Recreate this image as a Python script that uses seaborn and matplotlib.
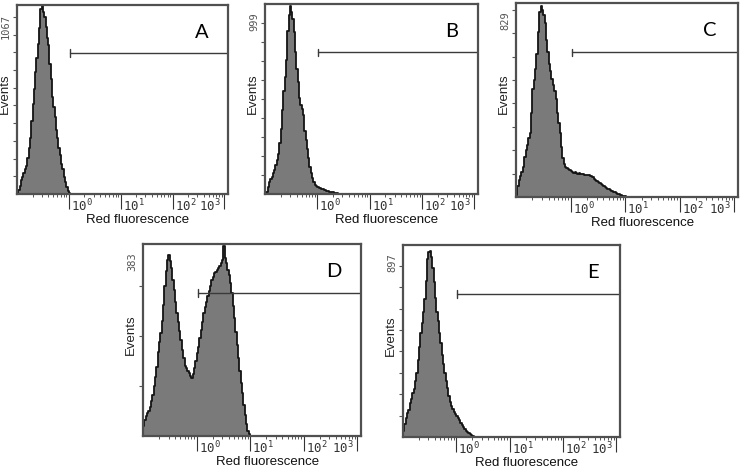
import numpy as np
import pandas as pd
import matplotlib
matplotlib.use('Agg')
import matplotlib.pyplot as plt
from matplotlib.ticker import LogLocator, NullFormatter
from matplotlib.transforms import ScaledTranslation
import seaborn as sns

# Canal del citómetro: rejilla en unidades log10 de fluorescencia
CHANNEL_START = -1.0
CHANNEL_WIDTH = 0.025

counts_a = [8, 20, 45, 78, 95, 118, 140, 158, 205, 262, 318, 410, 508, 590, 688,
            770, 845, 935, 1045, 1060, 1030, 998, 945, 880, 842, 735, 650, 548,
            490, 432, 362, 318, 262, 218, 172, 140, 98, 66, 42, 18, 6]

counts_b = [3, 8, 35, 62, 80, 92, 108, 125, 150, 178, 212, 268, 342, 440, 540,
            615, 705, 858, 940, 990, 955, 918, 850, 745, 655, 590, 505, 470, 445,
            415, 330, 285, 238, 190, 142, 110, 82, 62, 48, 40, 36, 34, 30, 28, 25,
            22, 20, 18, 16, 13, 11, 9, 8, 6, 5, 3, 2, 1]

counts_c = [10, 45, 72, 88, 105, 128, 170, 200, 222, 250, 275, 360, 462, 500, 548,
            612, 705, 790, 815, 798, 778, 742, 672, 618, 570, 538, 505, 478, 452,
            420, 360, 318, 275, 212, 165, 142, 130, 125, 118, 115, 110, 108, 104,
            106, 102, 100, 103, 99, 97, 100, 96, 94, 95, 92, 90, 88, 84, 78, 72, 67,
            63, 58, 55, 51, 48, 44, 40, 36, 33, 29, 26, 23, 20, 17, 14, 12, 10, 8,
            6, 4, 3, 1]

counts_d = [20, 32, 40, 46, 50, 58, 70, 82, 100, 118, 138, 168, 188, 205, 230, 262,
            300, 330, 352, 362, 350, 335, 312, 292, 268, 246, 228, 210, 192, 172,
            155, 140, 136, 130, 125, 120, 116, 124, 136, 150, 165, 178, 196, 212,
            228, 246, 258, 268, 280, 290, 300, 312, 318, 325, 328, 332, 336, 340,
            346, 352, 380, 355, 345, 332, 322, 305, 285, 260, 235, 208, 182, 155,
            130, 105, 85, 62, 42, 24, 10, 3]

counts_e = [30, 62, 90, 112, 128, 160, 178, 205, 226, 262, 300, 360, 420, 488, 532,
            582, 645, 728, 832, 862, 870, 840, 788, 722, 648, 585, 540, 488, 438,
            385, 340, 298, 262, 228, 192, 162, 145, 130, 118, 108, 100, 90, 78, 64,
            55, 45, 38, 30, 24, 19, 14, 9, 5, 2]

panel_letters = ['A', 'B', 'C', 'D', 'E']
y_max_labels = [1067, 999, 829, 383, 897]
x_tick_values = [1, 10, 100, 1000]
x_tick_labels = [r'$\mathtt{10^{0}}$', r'$\mathtt{10^{1}}$',
                 r'$\mathtt{10^{2}}$', r'$\mathtt{10^{3}}$']
gate_start = 1.05
x_limits = (10 ** -1.0, 10 ** 3.07)

# Posición de cada panel en píxeles (izq, arriba, der, abajo) sobre 740x468
FIG_W, FIG_H = 740, 468
panel_boxes = [(17, 5, 228, 194), (265, 4, 478, 194), (516, 3, 738, 197),
               (143, 244, 361, 436), (403, 245, 620, 437)]

FILL = '#7a7a7a'
EDGE = '#141414'
FRAME = '#505050'

sns.set_theme(style='white')
plt.rcParams['font.family'] = ['Liberation Sans', 'DejaVu Sans']
plt.rcParams['mathtext.fontset'] = 'dejavusans'


def draw_panel(fig, box, counts, ymax, letter):
	l, t, r, b = box
	w_px, h_px = r - l, b - t
	ax = fig.add_axes([l / FIG_W, 1 - b / FIG_H, w_px / FIG_W, h_px / FIG_H])

	n = len(counts)
	edges = CHANNEL_START + CHANNEL_WIDTH * np.arange(n + 1)
	centers = 10 ** (edges[:-1] + CHANNEL_WIDTH / 2)
	df = pd.DataFrame({'fl': centers, 'events': counts})
	sns.histplot(data=df, x='fl', weights='events', bins=list(edges), log_scale=True,
				 element='step', fill=True, color=FILL, edgecolor=EDGE,
				 linewidth=1.3, alpha=1, ax=ax)

	ax.set_xlim(*x_limits)
	ax.set_ylim(0, ymax)

	# Ejes: ticks largos en décadas, cortos en subdivisiones
	ax.set_xticks(x_tick_values)
	ax.set_xticklabels(x_tick_labels)
	ax.xaxis.set_minor_locator(LogLocator(base=10, subs=range(2, 10), numticks=20))
	ax.xaxis.set_minor_formatter(NullFormatter())
	ax.tick_params(axis='x', which='major', bottom=True, direction='out', length=11,
				   width=0.8, pad=-8.5, color='#333333', labelcolor='#333333', labelsize=9)
	ax.tick_params(axis='x', which='minor', bottom=True, direction='out', length=2,
				   width=0.7, color='#555555')
	for i, lab in enumerate(ax.get_xticklabels()):
		if i < 3:
			lab.set_ha('left')
			lab.set_transform(lab.get_transform() + ScaledTranslation(1.5 / 72, 0, fig.dpi_scale_trans))
		else:
			lab.set_ha('right')
			lab.set_transform(lab.get_transform() + ScaledTranslation(-2.5 / 72, 0, fig.dpi_scale_trans))

	ax.set_yticks(np.arange(100, ymax, 100))
	ax.set_yticklabels([])
	ax.tick_params(axis='y', which='major', left=True, direction='out', length=3,
				   width=0.8, color='#555555')

	for sp in ax.spines.values():
		sp.set_visible(True)
		sp.set_color(FRAME)
		sp.set_linewidth(1.6)

	ax.set_xlabel('Red fluorescence', fontsize=9.5, va='center', color='#111111')
	ax.xaxis.set_label_coords(0.57, -26 / h_px)
	ax.set_ylabel('Events', fontsize=9.5, va='center', color='#222222')
	ax.yaxis.set_label_coords(-12 / w_px, 0.53)

	# Valor máximo del eje vertical
	ax.annotate(str(ymax), xy=(0, 0.955), xycoords='axes fraction', xytext=(-11, 0),
				textcoords='offset pixels', rotation=90, ha='center', va='top',
				fontsize=7.5, family='DejaVu Sans Mono', color='#555555')

	# Marcador (gate) horizontal
	tr = ax.get_xaxis_transform()
	ax.plot([gate_start, x_limits[1]], [0.745, 0.745], transform=tr, color='#3a3a3a', lw=1.0)
	ax.plot([gate_start, gate_start], [0.725, 0.765], transform=tr, color='#3a3a3a', lw=1.0)

	ax.text(0.875, 0.857, letter, transform=ax.transAxes, ha='center', va='center',
			fontsize=14.5, family=['Lato', 'DejaVu Sans'], color='black')
	return ax


def main() -> None:
	fig = plt.figure(figsize=(FIG_W / 100, FIG_H / 100), dpi=100)
	fig.patch.set_facecolor('white')
	all_counts = [counts_a, counts_b, counts_c, counts_d, counts_e]
	for box, counts, ymax, letter in zip(panel_boxes, all_counts, y_max_labels, panel_letters):
		draw_panel(fig, box, counts, ymax, letter)
	fig.savefig('out.png', dpi=100, facecolor='white')
	plt.close(fig)


if __name__ == '__main__':
	main()
